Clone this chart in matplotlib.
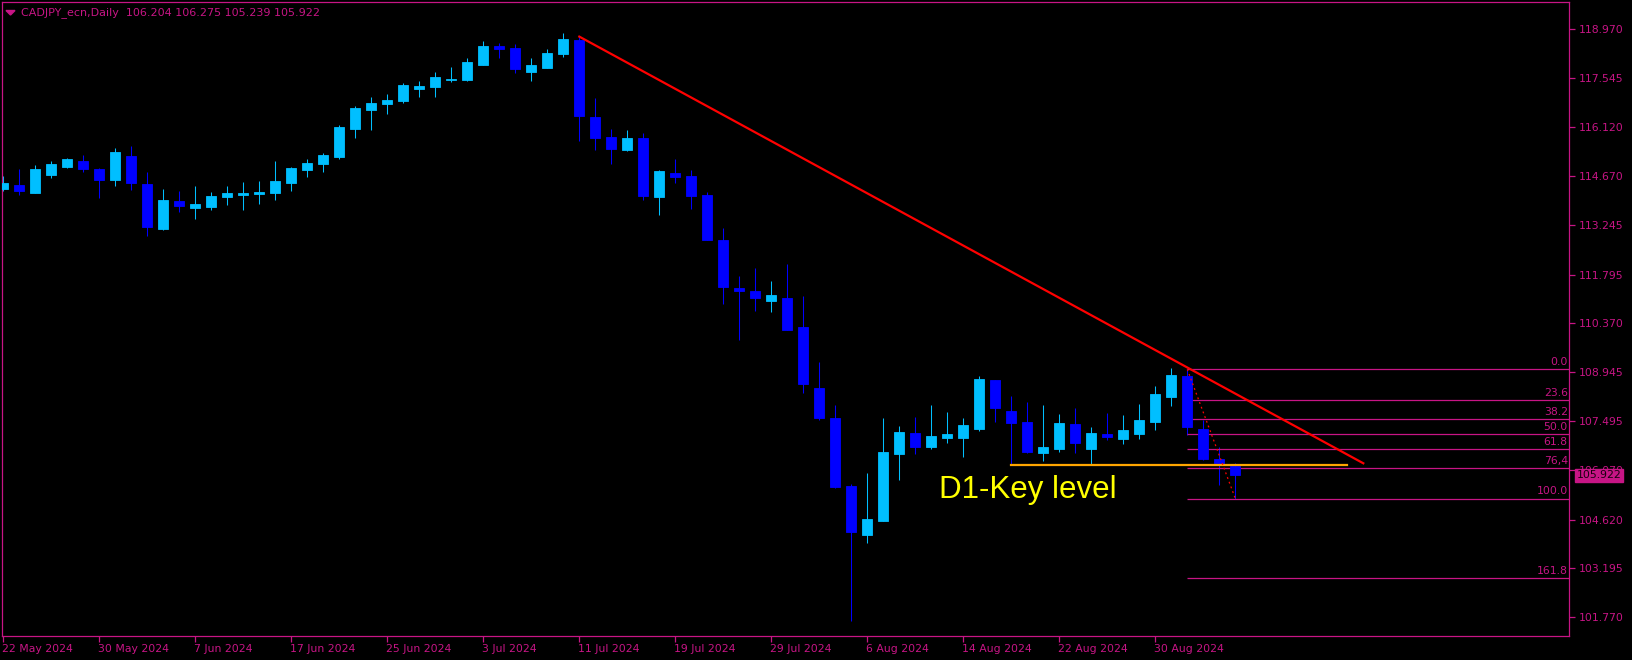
import matplotlib
matplotlib.use("Agg")
import matplotlib.pyplot as plt
from matplotlib.patches import Polygon
import matplotlib.transforms as mtransforms

# Daily CADJPY candles, 22 May 2024 .. 6 Sep 2024 (business days)
opens = [114.31, 114.41, 114.19, 114.72, 114.95, 115.12, 114.89, 114.57, 115.27, 114.45,
         113.13, 113.95, 113.75, 113.78, 114.07, 114.13, 114.16, 114.19, 114.48, 114.86,
         115.04, 115.25, 116.06, 116.62, 116.80, 116.88, 117.24, 117.29, 117.49, 117.50,
         117.94, 118.49, 118.43, 117.73, 117.85, 118.26, 118.66, 116.41, 115.82, 115.45,
         115.79, 114.07, 114.77, 114.68, 114.12, 112.81, 111.40, 111.31, 111.03, 111.11,
         110.26, 108.48, 107.60, 105.60, 104.18, 104.58, 106.55, 107.15, 106.75, 107.02,
         107.02, 107.28, 108.71, 107.80, 107.48, 106.58, 106.70, 107.42, 106.70, 107.13,
         106.99, 107.14, 107.49, 108.22, 108.83, 107.27, 106.40, 106.204]
highs = [114.68, 114.89, 115.00, 115.12, 115.21, 115.30, 114.92, 115.51, 115.57, 114.80,
         114.30, 114.24, 114.39, 114.21, 114.39, 114.50, 114.53, 115.12, 114.94, 115.18,
         115.35, 116.17, 116.73, 116.99, 117.08, 117.40, 117.46, 117.72, 117.87, 118.13,
         118.63, 118.57, 118.54, 118.13, 118.40, 118.87, 118.77, 116.96, 116.05, 116.03,
         115.94, 114.86, 115.18, 114.86, 114.20, 113.17, 111.75, 112.00, 111.61, 112.11,
         111.17, 109.23, 107.98, 105.66, 105.99, 107.60, 107.36, 107.63, 107.98, 107.77,
         107.60, 108.83, 108.72, 108.24, 108.06, 107.98, 107.71, 107.89, 107.33, 107.74,
         107.68, 108.01, 108.53, 109.06, 109.02, 107.54, 106.76, 106.275]
lows = [114.25, 114.12, 114.17, 114.63, 114.92, 114.81, 114.05, 114.40, 114.28, 112.93,
        113.10, 113.64, 113.43, 113.68, 113.84, 113.69, 113.87, 113.99, 114.25, 114.66,
        114.81, 115.19, 115.80, 116.04, 116.50, 116.83, 117.00, 117.00, 117.44, 117.47,
        117.93, 118.14, 117.70, 117.47, 117.84, 118.17, 115.71, 115.45, 115.04, 115.42,
        113.99, 113.55, 114.48, 113.72, 112.80, 110.92, 109.89, 110.74, 110.70, 110.17,
        108.34, 107.54, 105.55, 101.64, 103.95, 104.57, 105.79, 106.55, 106.69, 106.87,
        106.46, 107.22, 107.49, 106.23, 106.58, 106.35, 106.61, 106.58, 106.26, 106.96,
        106.84, 106.99, 107.25, 107.96, 107.11, 106.38, 105.64, 105.239]
closes = [114.48, 114.24, 114.89, 115.03, 115.18, 114.89, 114.57, 115.38, 114.48, 113.20,
          113.98, 113.81, 113.86, 114.09, 114.18, 114.18, 114.21, 114.53, 114.91, 115.06,
          115.30, 116.11, 116.67, 116.82, 116.91, 117.34, 117.31, 117.58, 117.52, 118.02,
          118.49, 118.40, 117.82, 117.93, 118.28, 118.69, 116.45, 115.80, 115.48, 115.79,
          114.09, 114.83, 114.66, 114.09, 112.82, 111.42, 111.32, 111.12, 111.20, 110.18,
          108.59, 107.61, 105.58, 104.27, 104.64, 106.60, 107.19, 106.75, 107.07, 107.13,
          107.39, 108.74, 107.90, 107.46, 106.61, 106.75, 107.45, 106.86, 107.16, 107.04,
          107.24, 107.54, 108.30, 108.85, 107.34, 106.40, 106.27, 105.922]

date_tick_pos = [0, 6, 12, 18, 24, 30, 36, 42, 48, 54, 60, 66, 72]
date_tick_labels = ["22 May 2024", "30 May 2024", "7 Jun 2024", "17 Jun 2024", "25 Jun 2024",
                    "3 Jul 2024", "11 Jul 2024", "19 Jul 2024", "29 Jul 2024", "6 Aug 2024",
                    "14 Aug 2024", "22 Aug 2024", "30 Aug 2024"]
price_ticks = [118.970, 117.545, 116.120, 114.670, 113.245, 111.795, 110.370,
               108.945, 107.495, 106.070, 104.620, 103.195, 101.770]

# drawn objects
trend_x = [36, 85]
trend_y = [118.76, 106.27]
key_level = 106.23
key_x = [63, 84]
fib_x0 = 74
fib_high = 109.02
fib_low = 105.239
fib_ratios = [0.0, 0.236, 0.382, 0.5, 0.618, 0.764, 1.0, 1.618]
fib_labels = ["0.0", "23.6", "38.2", "50.0", "61.8", "76,4", "100.0", "161.8"]

BULL = "#00BFFF"
BEAR = "#0000FF"
MAG = "#C71585"

W, H = 1633, 660
fig = plt.figure(figsize=(W / 100, H / 100), dpi=100, facecolor="black")
ax = fig.add_axes([2 / W, 24 / H, 1567 / W, 634 / H], facecolor="black")

x0, x1 = -0.081, 97.856
ax.set_xlim(x0, x1)
ax.set_ylim(101.214, 119.773)

xs = list(range(len(opens)))
colors = [BULL if c >= o else BEAR for o, c in zip(opens, closes)]
ax.vlines(xs, lows, highs, colors=colors, linewidth=0.75, zorder=2)
bottoms = [min(o, c) for o, c in zip(opens, closes)]
heights = [abs(c - o) for o, c in zip(opens, closes)]
ax.bar(xs, heights, bottom=bottoms, width=0.64, color=colors,
       edgecolor=colors, linewidth=0.6, zorder=3)

# trend line
ax.plot(trend_x, trend_y, color="#FF0000", linewidth=1.6, zorder=4)

# key level
ax.plot(key_x, [key_level, key_level], color="#FFA500", linewidth=1.6, zorder=4)
ax.text(58.5, 105.26, "D1-Key level", color="#FFFF00", fontsize=22.5,
        family="Liberation Sans", ha="left", va="baseline", zorder=5)

# fibonacci
rng = fib_high - fib_low
for r, lab in zip(fib_ratios, fib_labels):
    lvl = fib_high - r * rng
    ax.hlines(lvl, fib_x0, x1, color=MAG, linewidth=0.9, zorder=2)
    ax.text(x1 - 0.08, lvl + 0.06, lab, color=MAG, fontsize=7.8,
            ha="right", va="bottom", zorder=5)
ax.plot([fib_x0, 77], [fib_high, fib_low], color="#FF0000", linewidth=0.9,
        linestyle=(0, (1.5, 2.5)), zorder=4)

# axes styling
for sp in ax.spines.values():
    sp.set_color(MAG)
    sp.set_linewidth(0.9)
ax.yaxis.tick_right()
ax.set_yticks(price_ticks)
ax.set_yticklabels([f"{p:.3f}" for p in price_ticks])
ax.tick_params(axis="y", colors=MAG, labelcolor=MAG, labelsize=7.8,
               length=4, width=0.9, pad=3, direction="out")
ax.set_xticks(date_tick_pos)
ax.set_xticklabels(date_tick_labels, ha="left")
ax.tick_params(axis="x", colors=MAG, labelcolor=MAG, labelsize=7.8,
               length=4, width=0.9, pad=2, direction="out")
offset = mtransforms.ScaledTranslation(-1 / 100, 0, fig.dpi_scale_trans)
for lbl in ax.get_xticklabels():
    lbl.set_transform(lbl.get_transform() + offset)

# current price label
trans = mtransforms.blended_transform_factory(ax.transAxes, ax.transData)
ax.text(1.0048, closes[-1], f"{closes[-1]:.3f}", transform=trans, color="#1A0010",
        fontsize=7.8, ha="left", va="center", clip_on=False, zorder=6,
        bbox=dict(facecolor=MAG, edgecolor=MAG, pad=1.2))

# header
fig.text(21 / W, 1 - 12.7 / H, "CADJPY_ecn,Daily  106.204 106.275 105.239 105.922",
         color=MAG, fontsize=8, ha="left", va="center")
tri = Polygon([(6 / W, 1 - 10.5 / H), (15 / W, 1 - 10.5 / H), (10.5 / W, 1 - 15 / H)],
              closed=True, transform=fig.transFigure, facecolor=MAG, edgecolor=MAG)
fig.add_artist(tri)

fig.savefig("out.png", dpi=100, facecolor="black")
